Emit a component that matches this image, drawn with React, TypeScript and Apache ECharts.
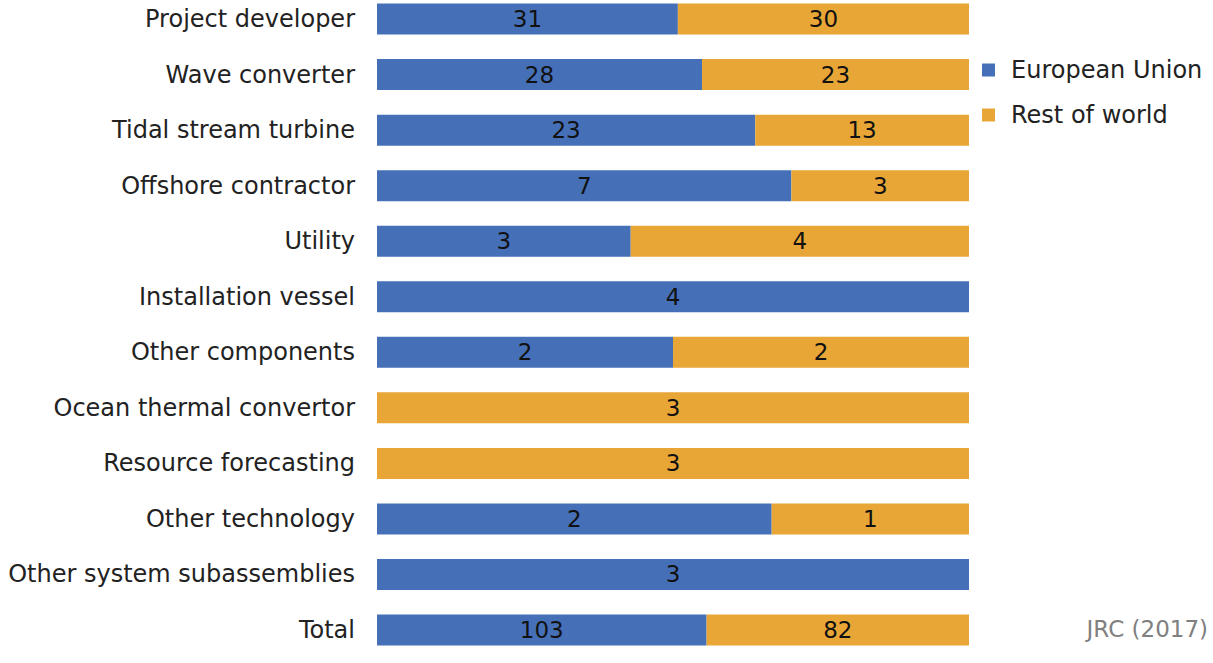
import React, { useEffect, useRef } from "react";
import * as echarts from "echarts";

const categories = [
  "Project developer",
  "Wave converter",
  "Tidal stream turbine",
  "Offshore contractor",
  "Utility",
  "Installation vessel",
  "Other components",
  "Ocean thermal convertor",
  "Resource forecasting",
  "Other technology",
  "Other system subassemblies",
  "Total",
];
const euValues = [31, 28, 23, 7, 3, 4, 2, 0, 0, 2, 3, 103];
const rowValues = [30, 23, 13, 3, 4, 0, 2, 3, 3, 1, 0, 82];
const seriesNames = ["European Union", "Rest of world"];
const colors = ["#4570B8", "#E8A636"];

const FONT = "DejaVu Sans";
const FS = 23;
const FS_AXIS = 24;

export default function App() {
  const ref = useRef<HTMLDivElement>(null);
  useEffect(() => {
    if (!ref.current) return;
    const chart = echarts.init(ref.current, undefined, { renderer: "svg" });
    const share = (a: number[], b: number[]) =>
      a.map((v, i) => ({ value: (v / (a[i] + b[i])) * 100, raw: v }));
    const mk = (name: string, vals: { value: number; raw: number }[], color: string) => ({
      name,
      type: "bar",
      stack: "s",
      barWidth: 31,
      itemStyle: { color },
      label: {
        show: true,
        position: "inside",
        fontSize: FS,
        fontFamily: FONT,
        color: "#111",
        formatter: (p: any) => (p.data.raw === 0 ? "" : String(p.data.raw)),
      },
      data: vals,
    });
    chart.setOption({
      animation: false,
      textStyle: { fontFamily: FONT },
      grid: { left: 377, right: 244, top: 0.3, bottom: 5.2 },
      xAxis: { type: "value", min: 0, max: 100, show: false },
      yAxis: {
        type: "category",
        inverse: true,
        data: categories,
        axisLine: { show: false },
        axisTick: { show: false },
        axisLabel: { fontSize: FS_AXIS, color: "#222", margin: 22, fontFamily: FONT },
      },
      legend: {
        orient: "vertical",
        left: 982,
        top: 67,
        itemWidth: 13,
        itemHeight: 13,
        itemGap: 21,
        icon: "rect",
        padding: 0,
        textStyle: { fontSize: FS_AXIS, color: "#222", fontFamily: FONT, padding: [0, 0, 0, 11] },
        data: seriesNames,
      },
      graphic: [
        {
          type: "text",
          right: 5,
          top: 626,
          style: { text: "JRC (2017)", fontSize: FS, fill: "#808080", fontFamily: FONT },
        },
      ],
      series: [
        mk(seriesNames[0], share(euValues, rowValues), colors[0]),
        mk(seriesNames[1], share(rowValues, euValues), colors[1]),
      ],
    });
    return () => chart.dispose();
  }, []);
  return (
    <div
      ref={ref}
      style={{ position: "fixed", left: 0, top: -9, width: 1213, height: 672, background: "#fff" }}
    />
  );
}
